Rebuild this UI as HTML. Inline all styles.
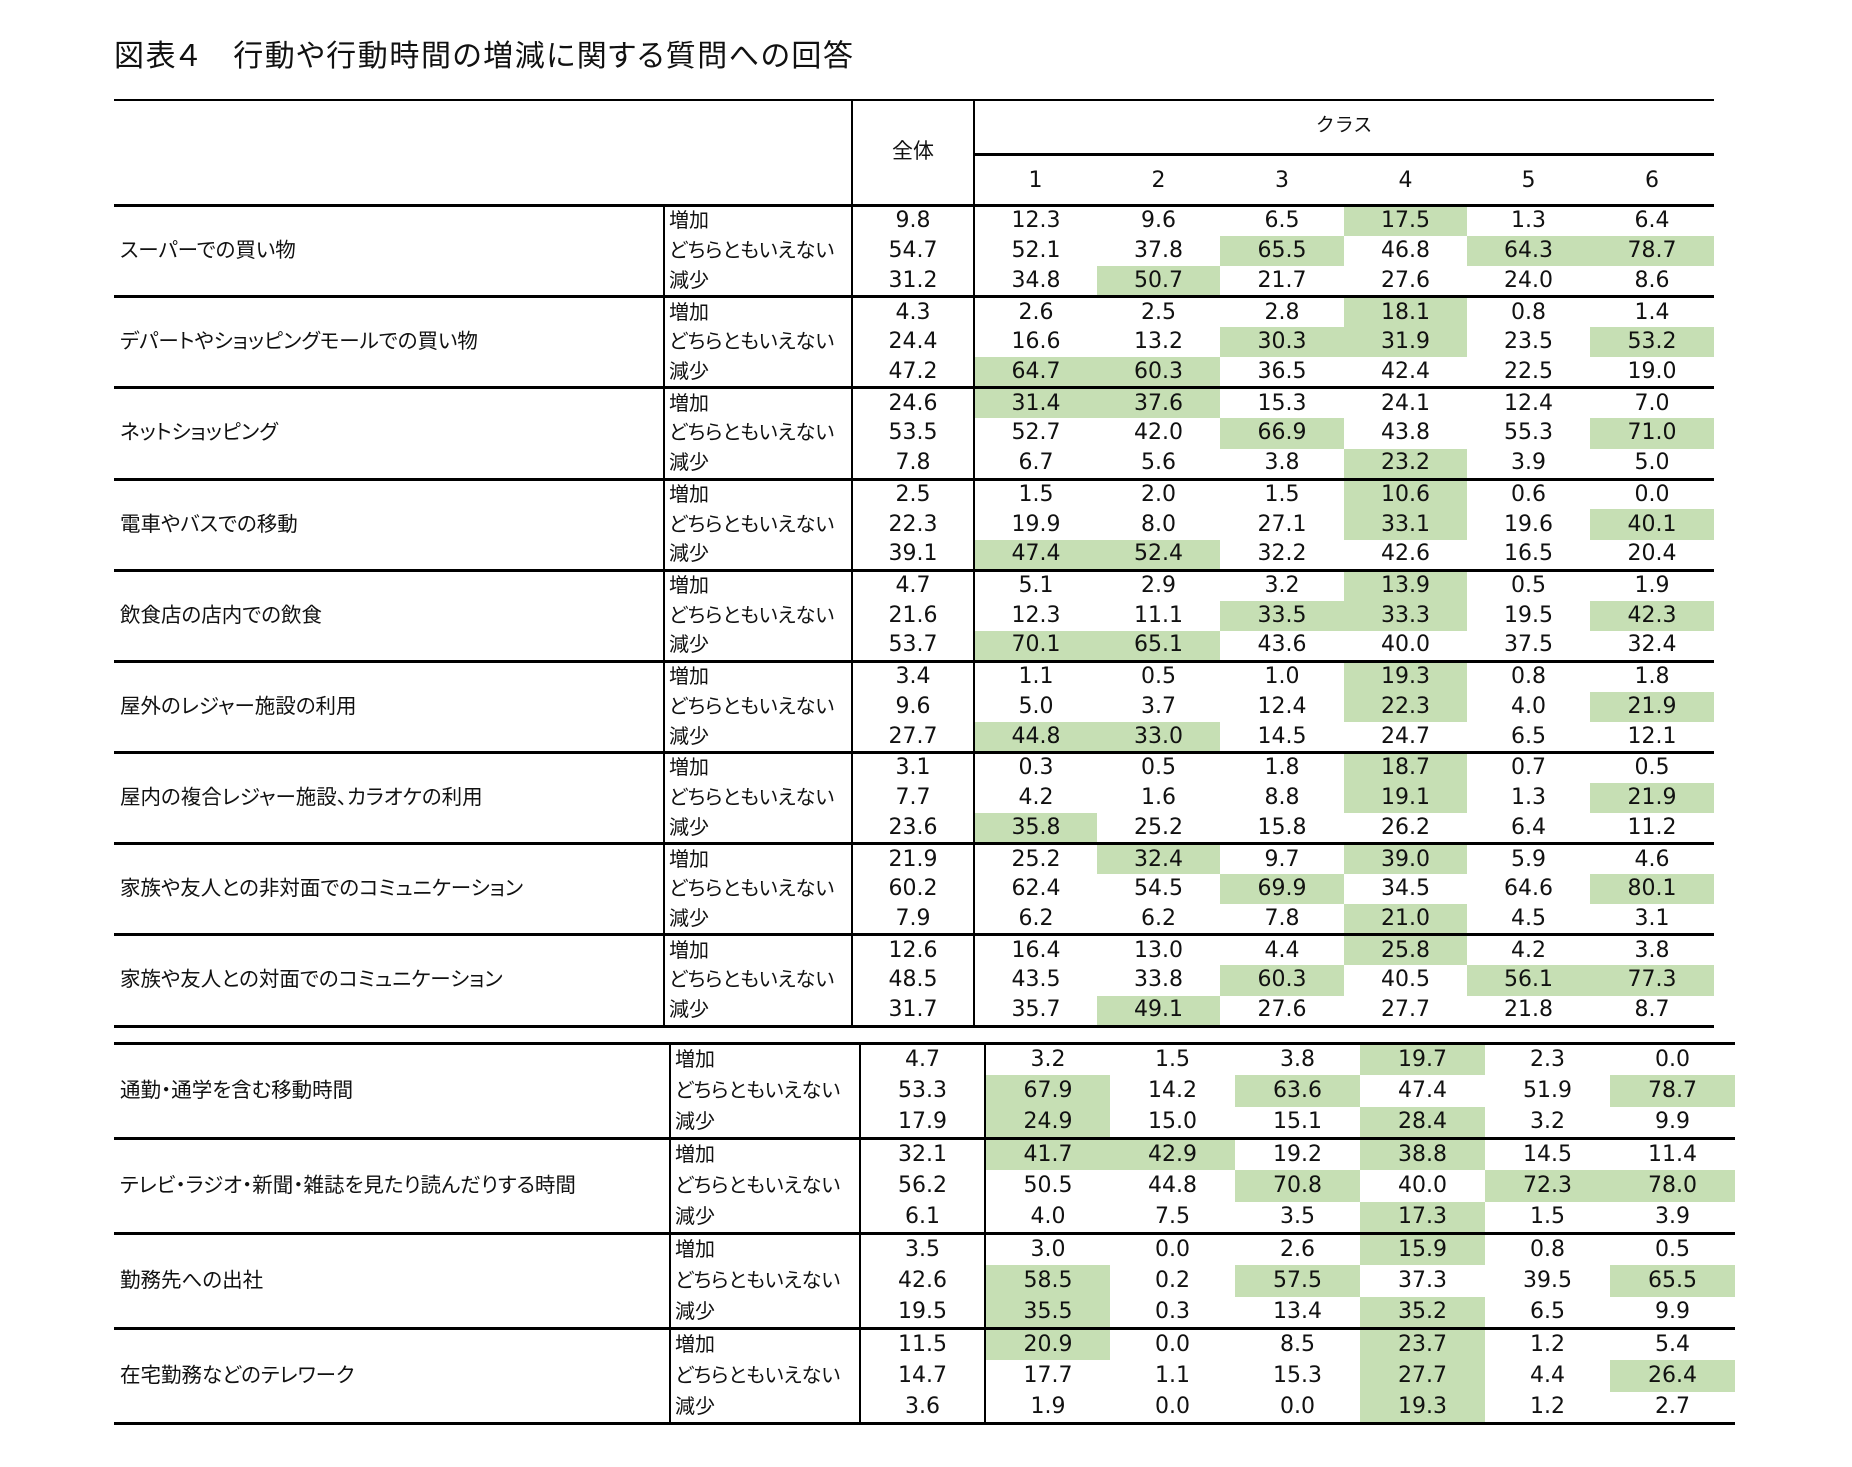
<!DOCTYPE html>
<html><head><meta charset="utf-8">
<style>
body{margin:0;width:1852px;height:1467px;background:#fff;position:relative;overflow:hidden;font-family:"Liberation Sans","Noto Sans CJK JP",sans-serif;color:#111}
.abs{position:absolute}
.title{left:114px;top:37px;font-size:30px;font-family:"Liberation Sans","Noto Sans CJK JP",sans-serif;font-feature-settings:"palt";letter-spacing:1.6px;white-space:nowrap;line-height:40px}
.hl{position:absolute;background:#000}
.hd{position:absolute;font-size:22px;font-family:"DejaVu Sans","Noto Sans CJK JP",sans-serif;text-align:center;line-height:30px}
table{border-collapse:collapse;table-layout:fixed;position:absolute}
td{padding:0;text-align:center;font-family:"DejaVu Sans",sans-serif;font-size:22px;white-space:nowrap;overflow:hidden;line-height:26px}
td.l,td.s{text-align:left;font-family:"Liberation Sans","Noto Sans CJK JP",sans-serif;font-feature-settings:"palt";font-size:20.5px}
td.s{font-size:20px}
td.l{padding-left:6px}
td.s{padding-left:4px;border-left:2px solid #000}
td.a{border-left:2px solid #000;border-right:2px solid #000}
td.g{background:#c6dfb4}
tbody{border-top:3px solid #000}
tbody.last{border-bottom:3px solid #000}
#t1 tr{height:30.4px}
#t2 tr{height:31.7px}
</style></head><body>
<div class="abs title">図表４　行動や行動時間の増減に関する質問への回答</div>

<div class="hl" style="left:114px;top:99px;width:1600px;height:2px"></div>
<div class="hl" style="left:851px;top:100px;width:2px;height:106px"></div>
<div class="hl" style="left:973px;top:100px;width:2px;height:106px"></div>
<div class="hl" style="left:974px;top:153px;width:740px;height:3px"></div>
<div class="hd" style="left:852px;top:137px;width:122px;font-family:'Liberation Sans','Noto Sans CJK JP',sans-serif;font-size:21px">全体</div>
<div class="hd" style="left:974px;top:111px;width:740px;font-family:'Liberation Sans','Noto Sans CJK JP',sans-serif;font-size:19px">クラス</div>
<div class="hd" style="left:974px;top:166px;width:123px">1</div>
<div class="hd" style="left:1097px;top:166px;width:123px">2</div>
<div class="hd" style="left:1220px;top:166px;width:124px">3</div>
<div class="hd" style="left:1344px;top:166px;width:123px">4</div>
<div class="hd" style="left:1467px;top:166px;width:123px">5</div>
<div class="hd" style="left:1590px;top:166px;width:124px">6</div>

<table id="t1" style="left:114px;top:204px;width:1600px">
<colgroup><col style="width:550px"><col style="width:188px"><col style="width:122px"><col style="width:123px"><col style="width:123px"><col style="width:124px"><col style="width:123px"><col style="width:123px"><col style="width:124px"></colgroup>
<tbody>
<tr><td class="l" rowspan="3">スーパーでの買い物</td><td class="s">増加</td><td class="a">9.8</td><td>12.3</td><td>9.6</td><td>6.5</td><td class="g">17.5</td><td>1.3</td><td>6.4</td></tr>
<tr><td class="s">どちらともいえない</td><td class="a">54.7</td><td>52.1</td><td>37.8</td><td class="g">65.5</td><td>46.8</td><td class="g">64.3</td><td class="g">78.7</td></tr>
<tr><td class="s">減少</td><td class="a">31.2</td><td>34.8</td><td class="g">50.7</td><td>21.7</td><td>27.6</td><td>24.0</td><td>8.6</td></tr>
</tbody><tbody>
<tr><td class="l" rowspan="3">デパートやショッピングモールでの買い物</td><td class="s">増加</td><td class="a">4.3</td><td>2.6</td><td>2.5</td><td>2.8</td><td class="g">18.1</td><td>0.8</td><td>1.4</td></tr>
<tr><td class="s">どちらともいえない</td><td class="a">24.4</td><td>16.6</td><td>13.2</td><td class="g">30.3</td><td class="g">31.9</td><td>23.5</td><td class="g">53.2</td></tr>
<tr><td class="s">減少</td><td class="a">47.2</td><td class="g">64.7</td><td class="g">60.3</td><td>36.5</td><td>42.4</td><td>22.5</td><td>19.0</td></tr>
</tbody><tbody>
<tr><td class="l" rowspan="3">ネットショッピング</td><td class="s">増加</td><td class="a">24.6</td><td class="g">31.4</td><td class="g">37.6</td><td>15.3</td><td>24.1</td><td>12.4</td><td>7.0</td></tr>
<tr><td class="s">どちらともいえない</td><td class="a">53.5</td><td>52.7</td><td>42.0</td><td class="g">66.9</td><td>43.8</td><td>55.3</td><td class="g">71.0</td></tr>
<tr><td class="s">減少</td><td class="a">7.8</td><td>6.7</td><td>5.6</td><td>3.8</td><td class="g">23.2</td><td>3.9</td><td>5.0</td></tr>
</tbody><tbody>
<tr><td class="l" rowspan="3">電車やバスでの移動</td><td class="s">増加</td><td class="a">2.5</td><td>1.5</td><td>2.0</td><td>1.5</td><td class="g">10.6</td><td>0.6</td><td>0.0</td></tr>
<tr><td class="s">どちらともいえない</td><td class="a">22.3</td><td>19.9</td><td>8.0</td><td>27.1</td><td class="g">33.1</td><td>19.6</td><td class="g">40.1</td></tr>
<tr><td class="s">減少</td><td class="a">39.1</td><td class="g">47.4</td><td class="g">52.4</td><td>32.2</td><td>42.6</td><td>16.5</td><td>20.4</td></tr>
</tbody><tbody>
<tr><td class="l" rowspan="3">飲食店の店内での飲食</td><td class="s">増加</td><td class="a">4.7</td><td>5.1</td><td>2.9</td><td>3.2</td><td class="g">13.9</td><td>0.5</td><td>1.9</td></tr>
<tr><td class="s">どちらともいえない</td><td class="a">21.6</td><td>12.3</td><td>11.1</td><td class="g">33.5</td><td class="g">33.3</td><td>19.5</td><td class="g">42.3</td></tr>
<tr><td class="s">減少</td><td class="a">53.7</td><td class="g">70.1</td><td class="g">65.1</td><td>43.6</td><td>40.0</td><td>37.5</td><td>32.4</td></tr>
</tbody><tbody>
<tr><td class="l" rowspan="3">屋外のレジャー施設の利用</td><td class="s">増加</td><td class="a">3.4</td><td>1.1</td><td>0.5</td><td>1.0</td><td class="g">19.3</td><td>0.8</td><td>1.8</td></tr>
<tr><td class="s">どちらともいえない</td><td class="a">9.6</td><td>5.0</td><td>3.7</td><td>12.4</td><td class="g">22.3</td><td>4.0</td><td class="g">21.9</td></tr>
<tr><td class="s">減少</td><td class="a">27.7</td><td class="g">44.8</td><td class="g">33.0</td><td>14.5</td><td>24.7</td><td>6.5</td><td>12.1</td></tr>
</tbody><tbody>
<tr><td class="l" rowspan="3">屋内の複合レジャー施設、カラオケの利用</td><td class="s">増加</td><td class="a">3.1</td><td>0.3</td><td>0.5</td><td>1.8</td><td class="g">18.7</td><td>0.7</td><td>0.5</td></tr>
<tr><td class="s">どちらともいえない</td><td class="a">7.7</td><td>4.2</td><td>1.6</td><td>8.8</td><td class="g">19.1</td><td>1.3</td><td class="g">21.9</td></tr>
<tr><td class="s">減少</td><td class="a">23.6</td><td class="g">35.8</td><td>25.2</td><td>15.8</td><td>26.2</td><td>6.4</td><td>11.2</td></tr>
</tbody><tbody>
<tr><td class="l" rowspan="3">家族や友人との非対面でのコミュニケーション</td><td class="s">増加</td><td class="a">21.9</td><td>25.2</td><td class="g">32.4</td><td>9.7</td><td class="g">39.0</td><td>5.9</td><td>4.6</td></tr>
<tr><td class="s">どちらともいえない</td><td class="a">60.2</td><td>62.4</td><td>54.5</td><td class="g">69.9</td><td>34.5</td><td>64.6</td><td class="g">80.1</td></tr>
<tr><td class="s">減少</td><td class="a">7.9</td><td>6.2</td><td>6.2</td><td>7.8</td><td class="g">21.0</td><td>4.5</td><td>3.1</td></tr>
</tbody><tbody class="last">
<tr><td class="l" rowspan="3">家族や友人との対面でのコミュニケーション</td><td class="s">増加</td><td class="a">12.6</td><td>16.4</td><td>13.0</td><td>4.4</td><td class="g">25.8</td><td>4.2</td><td>3.8</td></tr>
<tr><td class="s">どちらともいえない</td><td class="a">48.5</td><td>43.5</td><td>33.8</td><td class="g">60.3</td><td>40.5</td><td class="g">56.1</td><td class="g">77.3</td></tr>
<tr><td class="s">減少</td><td class="a">31.7</td><td>35.7</td><td class="g">49.1</td><td>27.6</td><td>27.7</td><td>21.8</td><td>8.7</td></tr>
</tbody>
</table>

<table id="t2" style="left:114px;top:1042px;width:1621px">
<colgroup><col style="width:556px"><col style="width:190px"><col style="width:125px"><col style="width:125px"><col style="width:125px"><col style="width:125px"><col style="width:125px"><col style="width:125px"><col style="width:125px"></colgroup>
<tbody>
<tr><td class="l" rowspan="3">通勤・通学を含む移動時間</td><td class="s">増加</td><td class="a">4.7</td><td>3.2</td><td>1.5</td><td>3.8</td><td class="g">19.7</td><td>2.3</td><td>0.0</td></tr>
<tr><td class="s">どちらともいえない</td><td class="a">53.3</td><td class="g">67.9</td><td>14.2</td><td class="g">63.6</td><td>47.4</td><td>51.9</td><td class="g">78.7</td></tr>
<tr><td class="s">減少</td><td class="a">17.9</td><td class="g">24.9</td><td>15.0</td><td>15.1</td><td class="g">28.4</td><td>3.2</td><td>9.9</td></tr>
</tbody><tbody>
<tr><td class="l" rowspan="3">テレビ・ラジオ・新聞・雑誌を見たり読んだりする時間</td><td class="s">増加</td><td class="a">32.1</td><td class="g">41.7</td><td class="g">42.9</td><td>19.2</td><td class="g">38.8</td><td>14.5</td><td>11.4</td></tr>
<tr><td class="s">どちらともいえない</td><td class="a">56.2</td><td>50.5</td><td>44.8</td><td class="g">70.8</td><td>40.0</td><td class="g">72.3</td><td class="g">78.0</td></tr>
<tr><td class="s">減少</td><td class="a">6.1</td><td>4.0</td><td>7.5</td><td>3.5</td><td class="g">17.3</td><td>1.5</td><td>3.9</td></tr>
</tbody><tbody>
<tr><td class="l" rowspan="3">勤務先への出社</td><td class="s">増加</td><td class="a">3.5</td><td>3.0</td><td>0.0</td><td>2.6</td><td class="g">15.9</td><td>0.8</td><td>0.5</td></tr>
<tr><td class="s">どちらともいえない</td><td class="a">42.6</td><td class="g">58.5</td><td>0.2</td><td class="g">57.5</td><td>37.3</td><td>39.5</td><td class="g">65.5</td></tr>
<tr><td class="s">減少</td><td class="a">19.5</td><td class="g">35.5</td><td>0.3</td><td>13.4</td><td class="g">35.2</td><td>6.5</td><td>9.9</td></tr>
</tbody><tbody class="last">
<tr><td class="l" rowspan="3">在宅勤務などのテレワーク</td><td class="s">増加</td><td class="a">11.5</td><td class="g">20.9</td><td>0.0</td><td>8.5</td><td class="g">23.7</td><td>1.2</td><td>5.4</td></tr>
<tr><td class="s">どちらともいえない</td><td class="a">14.7</td><td>17.7</td><td>1.1</td><td>15.3</td><td class="g">27.7</td><td>4.4</td><td class="g">26.4</td></tr>
<tr><td class="s">減少</td><td class="a">3.6</td><td>1.9</td><td>0.0</td><td>0.0</td><td class="g">19.3</td><td>1.2</td><td>2.7</td></tr>
</tbody>
</table>
</body></html>
